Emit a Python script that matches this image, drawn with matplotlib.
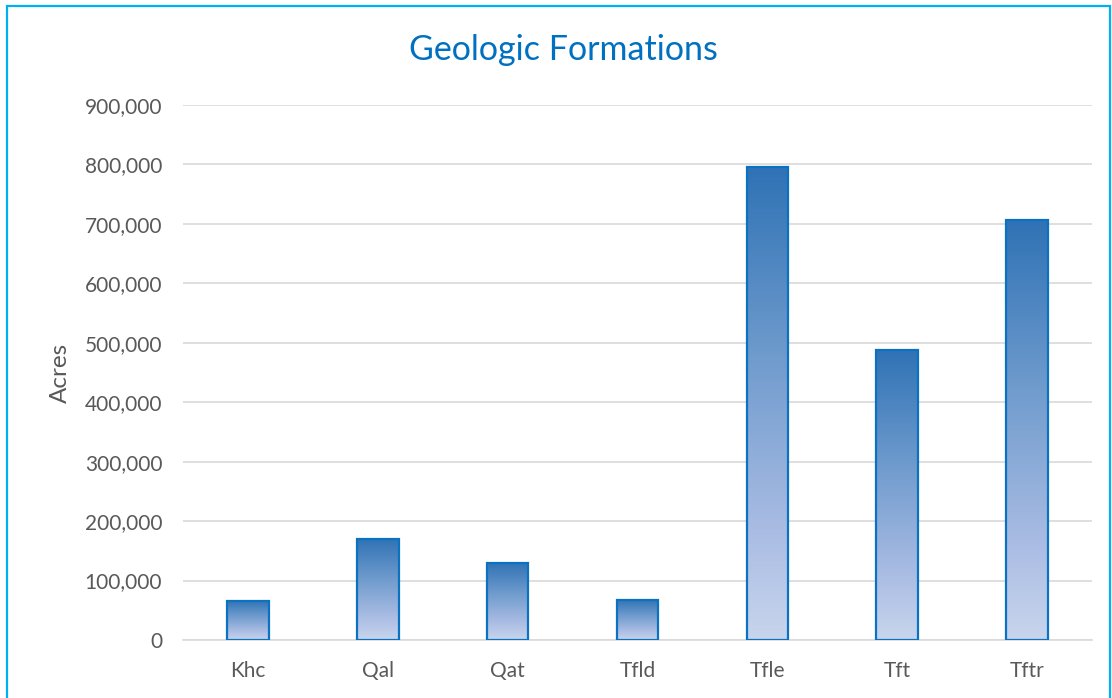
import numpy as np
import matplotlib.pyplot as plt
from matplotlib.colors import LinearSegmentedColormap
from matplotlib.patches import Rectangle

# --- data ---
formations = ["Khc", "Qal", "Qat", "Tfld", "Tfle", "Tft", "Tftr"]
acres = [66000, 170500, 130000, 67500, 795000, 488000, 706000]
y_ticks = [0, 100000, 200000, 300000, 400000, 500000, 600000, 700000, 800000, 900000]

# bar gradient, bottom -> top
grad = LinearSegmentedColormap.from_list(
    "bar_grad",
    [(0.0, "#C8D5EC"), (0.22, "#ABBDE4"), (0.6, "#6F9BCD"), (1.0, "#2F72B5")],
)

plt.rcParams["font.family"] = ["Lato", "DejaVu Sans"]

fig = plt.figure(figsize=(11.12, 6.98), dpi=100)
ax = fig.add_axes([0.1646, 0.0831, 0.8174, 0.7665])

bar_w = 0.32
x = np.arange(len(formations))
bars = ax.bar(x, acres, width=bar_w, color="none", edgecolor="#0B72C2",
              linewidth=1.6, zorder=3)

# gradient fill, clipped to each bar
g = np.linspace(0, 1, 256).reshape(-1, 1)
for b in bars:
    x0, w, h = b.get_x(), b.get_width(), b.get_height()
    im = ax.imshow(g, cmap=grad, origin="lower", aspect="auto",
                   extent=[x0, x0 + w, 0, h], zorder=2)
    im.set_clip_path(b)

ax.set_xlim(-0.5, len(formations) - 0.5)
ax.set_ylim(0, 900000)
ax.set_yticks(y_ticks)
ax.set_yticklabels([f"{v:,}" for v in y_ticks])
ax.set_xticks(x)
ax.set_xticklabels(formations)
ax.tick_params(axis="both", length=0, labelsize=15, colors="#595959")
ax.tick_params(axis="y", pad=15)
ax.tick_params(axis="x", pad=15)
ax.grid(axis="y", color="#D9D9D9", lw=1.2, zorder=0)
ax.set_axisbelow(True)
for s in ["top", "right", "left"]:
    ax.spines[s].set_visible(False)
ax.spines["bottom"].set_color("#D9D9D9")
ax.spines["bottom"].set_linewidth(1.2)

ax.set_ylabel("Acres", fontsize=17.5, color="#595959", labelpad=10)
fig.text(0.507, 0.928, "Geologic Formations", ha="center", va="center",
         fontsize=24.5, color="#0070C0")

# chart border
fig.patches.append(Rectangle((0.0065, -0.01), 0.9915, 1.0015, transform=fig.transFigure,
                             fill=False, edgecolor="#00B0F0", lw=1.6))

fig.savefig("out.png", dpi=100)
